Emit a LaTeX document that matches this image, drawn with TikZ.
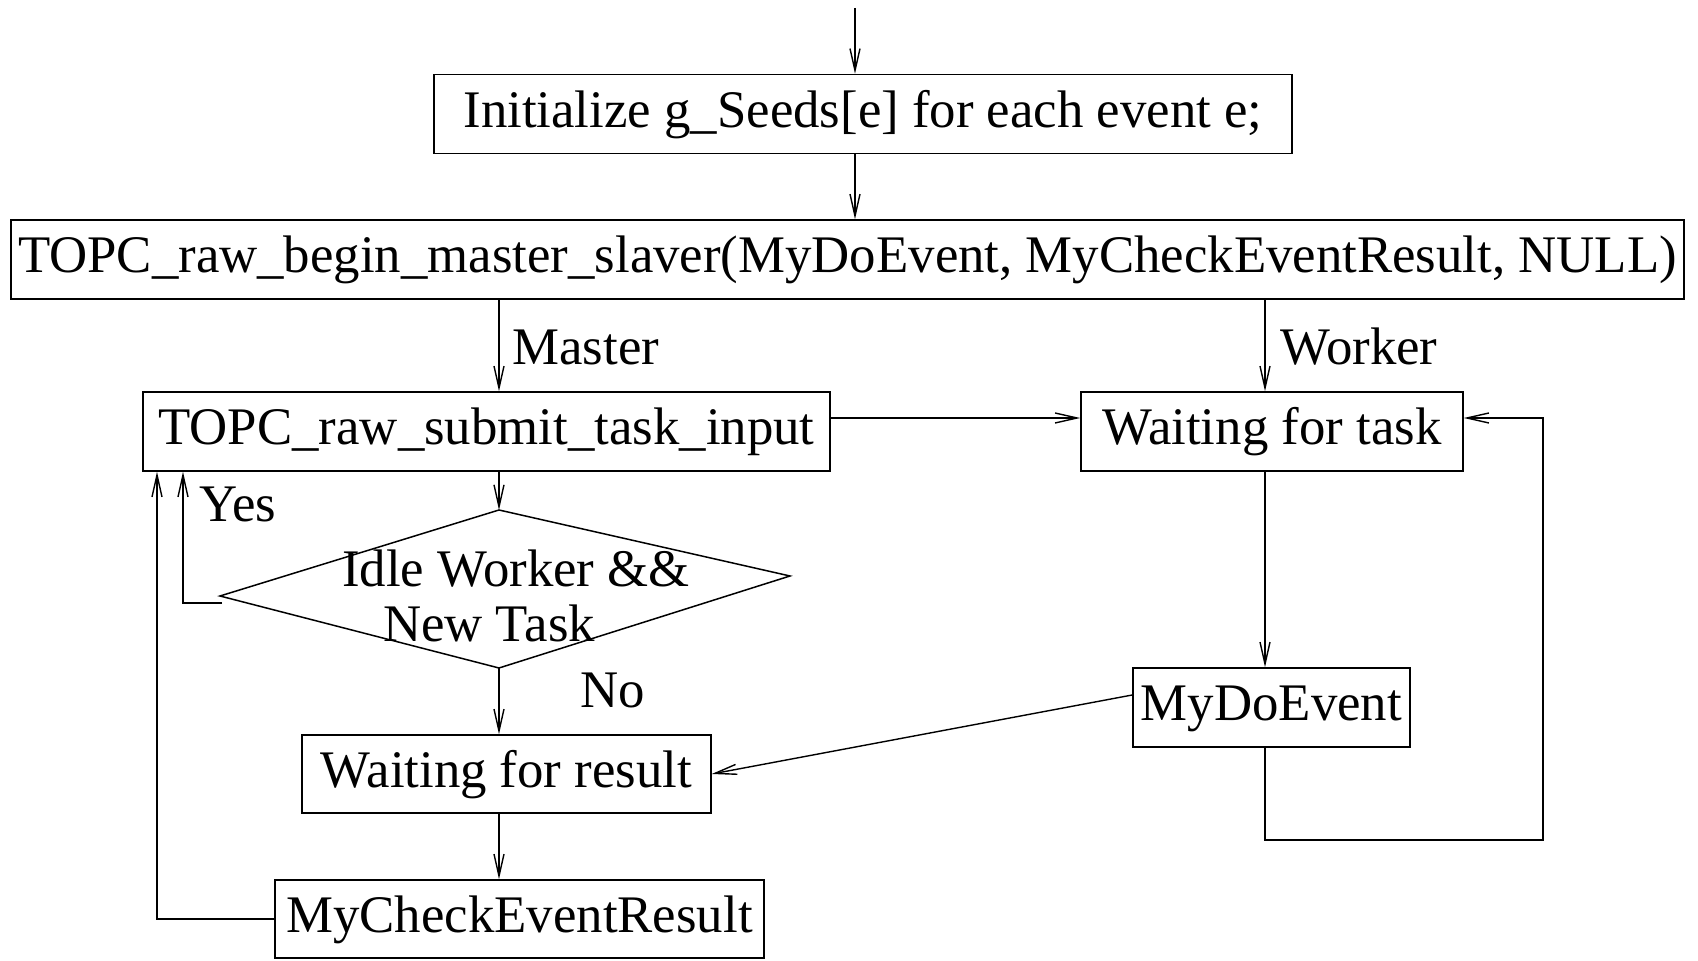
\documentclass[tikz,border=0pt]{standalone}
\usepackage{fontspec}
\setmainfont{Liberation Serif}
\usetikzlibrary{arrows.meta}
\begin{document}
\begin{tikzpicture}[x=0.5pt,y=-0.5pt,
  every node/.style={font=\fontsize{26.4}{33}\selectfont, inner sep=0pt},
  box/.style={draw, line width=0.75pt, rectangle, align=center, text height=18pt, text depth=4.5pt},
  conn/.style={line width=0.7pt, -{Straight Barb[length=11pt,width=5pt,line width=0.7pt]}},
  plain/.style={line width=0.7pt},
  lbl/.style={anchor=base west}]
\useasboundingbox (0,0) rectangle (1698,961);
% nodes
\node[box, minimum width=429pt, minimum height=39.5pt] (init) at (863,114) {Initialize g\_Seeds[e] for each event e;};
\node[box, minimum width=836.5pt, minimum height=39.5pt] (main) at (847.5,259.5) {TOPC\_raw\_begin\_master\_slaver(MyDoEvent, MyCheckEventResult, NULL)};
\node[box, minimum width=343.5pt, minimum height=39.5pt] (submit) at (486.5,431.5) {TOPC\_raw\_submit\_task\_input};
\node[box, minimum width=191pt, minimum height=39.5pt] (waittask) at (1272,431.5) {Waiting for task};
\node[box, minimum width=204.5pt, minimum height=39pt] (waitres) at (506.5,774) {Waiting for result};
\node[box, minimum width=244.5pt, minimum height=39pt] (mycheck) at (519.5,919) {MyCheckEventResult};
\node[box, minimum width=138.5pt, minimum height=39.5pt] (mydo) at (1271.5,707.5) {MyDoEvent};
% diamond
\coordinate (dtop) at (499,510);
\coordinate (dright) at (790,576);
\coordinate (dbot) at (499,668);
\coordinate (dleft) at (220,596);
\draw[line width=0.75pt] (dtop) -- (dright) -- (dbot) -- (dleft) -- cycle;
\node[anchor=base] (dtext1) at (516,587) {Idle Worker \&\&};
\node[anchor=base] (dtext2) at (489,642) {New Task};
% helper coordinates
\coordinate (start) at (855,8);
\coordinate (wcol) at (1265,0);
\coordinate (hrow) at (0,418);
\coordinate (yesstart) at (222,603);
\coordinate (yescol) at (183,603);
\coordinate (loopL) at (157,919);
\coordinate (loopR) at (1543,840);
% connectors
\draw[conn] (start) -- (start |- init.north);
\draw[conn] (init.south -| start) -- (main.north -| start);
\draw[conn] (main.south -| dtop) -- (submit.north -| dtop);
\draw[conn] (main.south -| wcol) -- (waittask.north -| wcol);
\draw[conn] (submit.east |- hrow) -- (waittask.west |- hrow);
\draw[conn] (submit.south -| dtop) -- (dtop);
\draw[conn] (dbot) -- (waitres.north -| dbot);
\draw[conn] (yesstart) -- (yescol) -- (yescol |- submit.south);
\draw[conn] (waitres.south -| dbot) -- (mycheck.north -| dbot);
\draw[conn] (mycheck.west) -- (loopL) -- (loopL |- submit.south);
\draw[conn] (waittask.south -| wcol) -- (mydo.north -| wcol);
\draw[conn] ([yshift=6.25pt]mydo.west) -- (waitres.east);
\draw[conn] (mydo.south -| wcol) -- (wcol |- loopR) -- (loopR) -- (loopR |- hrow) -- (waittask.east |- hrow);
% labels
\node[lbl] (lmaster) at (512,365) {Master};
\node[lbl] (lworker) at (1280,365) {Worker};
\node[lbl] (lyes) at (199,522) {Yes};
\node[lbl] (lno) at (580,708) {No};
\end{tikzpicture}
\end{document}
